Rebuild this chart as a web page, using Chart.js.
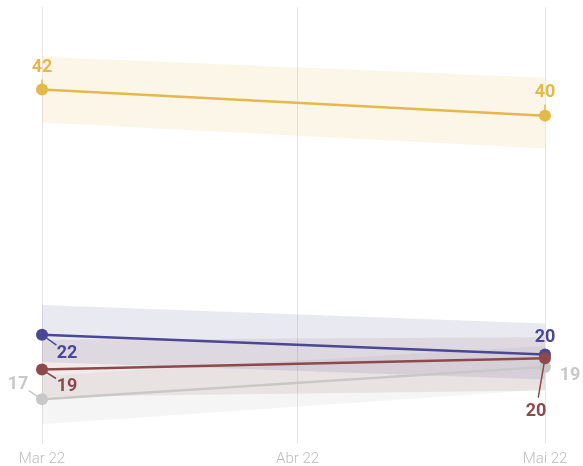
<!DOCTYPE html>
<html>
<head>
<meta charset="utf-8">
<script src="https://cdn.jsdelivr.net/npm/chart.js@4"></script>
<style>
  body { margin: 0; background: #fff; }
  #wrap { width: 583px; height: 466px; }
</style>
</head>
<body>
<div id="wrap"><canvas id="chart"></canvas></div>
<script>
// days since 1 Mar 2022, so months are spaced like on a time axis
const dayOffsets = [0, 31, 61];
const tickLabels = ['Mar 22', 'Abr 22', 'Mai 22'];
const pointDays = [0, 61];

const names = ['Amarelo', 'Roxo', 'Vermelho', 'Cinza'];
const colors = ['#e4b84a', '#4b4695', '#8c4a4c', '#c8c8c8'];
const bandColors = ['rgba(228,184,74,0.13)', 'rgba(75,70,149,0.12)', 'rgba(140,74,76,0.11)', 'rgba(170,170,170,0.12)'];
// lower number is drawn on top
const drawOrder = [0, 2, 1, 3];

const yellowValues = [41.95, 39.85];
const purpleValues = [22.2, 20.6];
const redValues = [19.4, 20.3];
const grayValues = [17.0, 19.6];

const yellowUpper = [44.6, 42.9];
const yellowLower = [39.3, 37.2];
const purpleUpper = [24.6, 23.1];
const purpleLower = [20.0, 18.6];
const redUpper = [21.8, 22.0];
const redLower = [17.2, 17.7];
const grayUpper = [18.9, 21.3];
const grayLower = [15.0, 17.8];

const labelTexts = [['42', '40'], ['22', '20'], ['19', '20'], ['17', '19']];

const seriesValues = [yellowValues, purpleValues, redValues, grayValues];
const upperValues = [yellowUpper, purpleUpper, redUpper, grayUpper];
const lowerValues = [yellowLower, purpleLower, redLower, grayLower];

// label placement relative to each point: [dx, dy, leader line?]
const labelPlacement = [
    [[0, -23, true], [0, -24, true]],
    [[25, 18, true], [0, -18, false]],
    [[25, 16, true], [-9, 52, true]],
    [[-24, -16, true], [25, 7, false]],
];

function toPoints(values) {
    return values.map((v, i) => ({ x: pointDays[i], y: v }));
}

const datasets = [];
// confidence bands first
for (let s = 0; s < names.length; s++) {
    datasets.push({
        label: names[s] + ' sup',
        data: toPoints(upperValues[s]),
        borderWidth: 0,
        pointRadius: 0,
        fill: false,
        order: 10,
    });
    datasets.push({
        label: names[s] + ' inf',
        data: toPoints(lowerValues[s]),
        borderWidth: 0,
        pointRadius: 0,
        fill: '-1',
        backgroundColor: bandColors[s],
        order: 10,
    });
}
for (let s = 0; s < names.length; s++) {
    datasets.push({
        label: names[s],
        data: toPoints(seriesValues[s]),
        borderColor: colors[s],
        backgroundColor: colors[s],
        borderWidth: 2.5,
        pointRadius: 6,
        pointHoverRadius: 6,
        pointBorderWidth: 0,
        fill: false,
        clip: false,
        order: drawOrder[s],
        seriesIndex: s,
    });
}

const labelPlugin = {
    id: 'labels',
    afterDatasetsDraw(chart) {
        const ctx = chart.ctx;
        ctx.save();
        ctx.font = 'bold 18px Roboto';
        ctx.textAlign = 'center';
        ctx.textBaseline = 'middle';
        chart.data.datasets.forEach((ds, di) => {
            if (ds.seriesIndex === undefined) return;
            const s = ds.seriesIndex;
            const meta = chart.getDatasetMeta(di);
            meta.data.forEach((pt, i) => {
                const [dx, dy, leader] = labelPlacement[s][i];
                const tx = pt.x + dx;
                const ty = pt.y + dy;
                if (leader) {
                    const dist = Math.sqrt(dx * dx + dy * dy);
                    const end = (dist - 13) / dist;
                    ctx.strokeStyle = colors[s];
                    ctx.lineWidth = 1.5;
                    ctx.beginPath();
                    ctx.moveTo(pt.x, pt.y);
                    ctx.lineTo(pt.x + dx * end, pt.y + dy * end);
                    ctx.stroke();
                }
                ctx.fillStyle = colors[s];
                ctx.fillText(labelTexts[s][i], tx, ty + 1);
            });
        });
        ctx.restore();
    },
};

new Chart(document.getElementById('chart'), {
    type: 'line',
    data: { datasets },
    plugins: [labelPlugin],
    options: {
        responsive: true,
        maintainAspectRatio: false,
        animation: false,
        layout: { padding: { left: 42, right: 38, top: 7, bottom: -8 } },
        plugins: {
            legend: { display: false },
            tooltip: { enabled: false },
        },
        scales: {
            x: {
                type: 'linear',
                min: dayOffsets[0],
                max: dayOffsets[dayOffsets.length - 1],
                afterBuildTicks: (axis) => {
                    axis.ticks = dayOffsets.map((v) => ({ value: v }));
                },
                border: { display: false },
                grid: { color: '#e6e6e6', lineWidth: 1, drawTicks: false },
                ticks: {
                    padding: 6,
                    color: '#bdbdbd',
                    font: { family: 'Roboto', weight: 300, size: 15 },
                    maxRotation: 0,
                    callback: (v) => tickLabels[dayOffsets.indexOf(v)],
                },
            },
            y: {
                display: false,
                min: 13.4,
                max: 48.6,
            },
        },
    },
});
</script>
</body>
</html>
